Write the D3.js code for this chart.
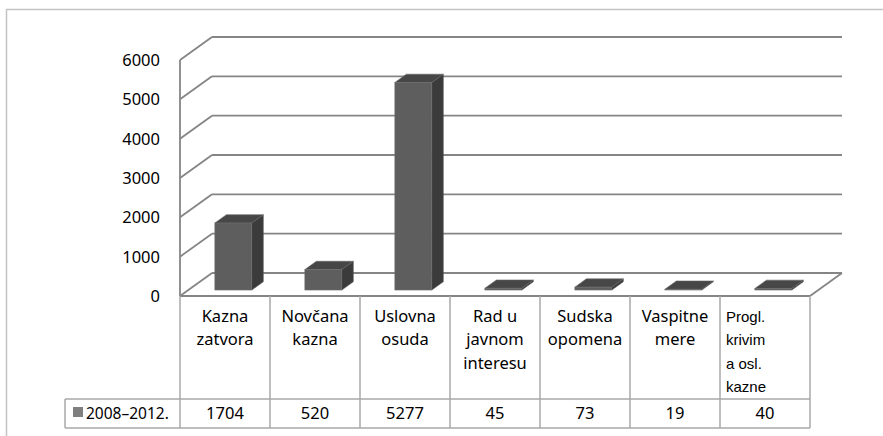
<!DOCTYPE html>
<html>
<head>
<meta charset="utf-8">
<script src="https://cdn.jsdelivr.net/npm/d3@7"></script>
<style>
  body { margin: 0; background: #fff; }
  svg { display: block; }
  text { font-family: "Noto Sans", "Liberation Sans", sans-serif; fill: #000; }
</style>
</head>
<body>
<svg id="chart" width="883" height="436"></svg>
<script>
// data
var categories = [
    ['Kazna', 'zatvora'],
    ['Novčana', 'kazna'],
    ['Uslovna', 'osuda'],
    ['Rad u', 'javnom', 'interesu'],
    ['Sudska', 'opomena'],
    ['Vaspitne', 'mere'],
    ['Progl.', 'krivim', 'a osl.', 'kazne']
];
var values = [1704, 520, 5277, 45, 73, 19, 40];
var yTicks = [0, 1000, 2000, 3000, 4000, 5000, 6000];
var seriesName = '2008–2012.';

var svg = d3.select('#chart');

var plotLeft = 180, plotRight = 810;
var floorY = 296, topY = 60;
var depth = { x: 32, y: -23 };       // back wall offset
var barFront = 0.26, barDepth = 0.36; // bar position in the depth

var x = d3.scaleBand()
    .domain(d3.range(categories.length))
    .range([plotLeft, plotRight])
    .padding(0);

var y = d3.scaleLinear()
    .domain([0, 6000])
    .range([floorY, topY]);

// outer frame
svg.append('rect')
    .attr('x', 6.5).attr('y', 9.5)
    .attr('width', 900).attr('height', 500)
    .attr('fill', 'none')
    .attr('stroke', '#c4c4c4')
    .attr('stroke-width', 1.5);

var gridColor = '#858585';
var grid = svg.append('g').attr('class', 'grid');

// gridlines: small diagonal on left wall + line on back wall
yTicks.forEach(function(t) {
    var yy = y(t);
    grid.append('line')
        .attr('x1', plotLeft).attr('y1', yy)
        .attr('x2', plotLeft + depth.x).attr('y2', yy + depth.y)
        .attr('stroke', gridColor).attr('stroke-width', 1.8);
    grid.append('line')
        .attr('x1', plotLeft + depth.x).attr('y1', yy + depth.y)
        .attr('x2', plotRight + depth.x).attr('y2', yy + depth.y)
        .attr('stroke', gridColor).attr('stroke-width', 1.8);
});

// left axis line
grid.append('line')
    .attr('x1', plotLeft).attr('y1', y(6000))
    .attr('x2', plotLeft).attr('y2', y(0))
    .attr('stroke', gridColor).attr('stroke-width', 1.8);

// floor front edge and right edge
grid.append('line')
    .attr('x1', plotLeft).attr('y1', y(0))
    .attr('x2', plotRight).attr('y2', y(0))
    .attr('stroke', gridColor).attr('stroke-width', 1.8);
grid.append('line')
    .attr('x1', plotRight).attr('y1', y(0))
    .attr('x2', plotRight + depth.x).attr('y2', y(0) + depth.y)
    .attr('stroke', gridColor).attr('stroke-width', 1.8);

// y tick labels
svg.append('g').selectAll('text')
    .data(yTicks)
    .enter().append('text')
        .attr('x', 160)
        .attr('y', function(d) { return y(d) + 6; })
        .attr('text-anchor', 'end')
        .style('font-size', '16.5px')
        .text(function(d) { return d; });

// bars
var barW = x.bandwidth() * 0.41;
var offX = depth.x * barFront, offY = depth.y * barFront;
var bdX = depth.x * barDepth, bdY = depth.y * barDepth;

var bars = svg.append('g').attr('class', 'bars');

values.forEach(function(v, i) {
    var cx = x(i) + x.bandwidth() / 2 + offX;
    var x0 = cx - barW / 2, x1 = cx + barW / 2;
    var yb = y(0) + offY, yt = y(v) + offY;
    var g = bars.append('g');

    // side face
    g.append('path')
        .attr('d', 'M' + x1 + ',' + yb + 'L' + (x1 + bdX) + ',' + (yb + bdY) +
            'L' + (x1 + bdX) + ',' + (yt + bdY) + 'L' + x1 + ',' + yt + 'Z')
        .attr('fill', '#3b3b3b')
        .attr('stroke', '#555').attr('stroke-width', 0.6);

    // top face
    g.append('path')
        .attr('d', 'M' + x0 + ',' + yt + 'L' + (x0 + bdX) + ',' + (yt + bdY) +
            'L' + (x1 + bdX) + ',' + (yt + bdY) + 'L' + x1 + ',' + yt + 'Z')
        .attr('fill', '#474747')
        .attr('stroke', '#666').attr('stroke-width', 0.6);

    // front face
    if (yb - yt > 0.5) {
        g.append('rect')
            .attr('x', x0).attr('y', yt)
            .attr('width', barW).attr('height', yb - yt)
            .attr('fill', '#5e5e5e')
            .attr('stroke', '#6e6e6e').attr('stroke-width', 0.6);
    }
});

// data table under the chart
var tableColor = '#a8a8a8';
var headTop = floorY, headBottom = 399, rowBottom = 428;
var legendLeft = 65;
var table = svg.append('g').attr('class', 'table');

// vertical lines between categories
d3.range(categories.length + 1).forEach(function(i) {
    var xx = i < categories.length ? x(i) : plotRight;
    table.append('line')
        .attr('x1', xx).attr('y1', headTop)
        .attr('x2', xx).attr('y2', rowBottom)
        .attr('stroke', tableColor).attr('stroke-width', 1.5);
});
table.append('line')
    .attr('x1', legendLeft).attr('y1', headBottom)
    .attr('x2', legendLeft).attr('y2', rowBottom)
    .attr('stroke', tableColor).attr('stroke-width', 1.5);
[headBottom, rowBottom].forEach(function(yy) {
    table.append('line')
        .attr('x1', legendLeft).attr('y1', yy)
        .attr('x2', plotRight).attr('y2', yy)
        .attr('stroke', tableColor).attr('stroke-width', 1.5);
});

// category labels (last one is set in Arial in the original, left aligned)
categories.forEach(function(lines, i) {
    var last = i === categories.length - 1;
    var tx = last ? x(i) + 6 : x(i) + x.bandwidth() / 2;
    var t = table.append('text')
        .attr('x', tx)
        .attr('y', 322)
        .attr('text-anchor', last ? 'start' : 'middle')
        .style('font-size', last ? '15px' : '16.5px')
        .style('font-family', last ? '"Liberation Sans", Arial, sans-serif' : null);
    lines.forEach(function(l, j) {
        t.append('tspan')
            .attr('x', tx)
            .attr('dy', j === 0 ? 0 : 23.3)
            .text(l);
    });
});

// values row
table.selectAll('.val')
    .data(values)
    .enter().append('text')
        .attr('class', 'val')
        .attr('x', function(d, i) { return x(i) + x.bandwidth() / 2; })
        .attr('y', 419)
        .attr('text-anchor', 'middle')
        .style('font-size', '16.5px')
        .text(function(d) { return d; });

// legend key
table.append('rect')
    .attr('x', 73).attr('y', 407)
    .attr('width', 10).attr('height', 10)
    .attr('fill', '#7f7f7f');
table.append('text')
    .attr('x', 86).attr('y', 419)
    .style('font-size', '15.5px')
    .text(seriesName);
</script>
</body>
</html>
